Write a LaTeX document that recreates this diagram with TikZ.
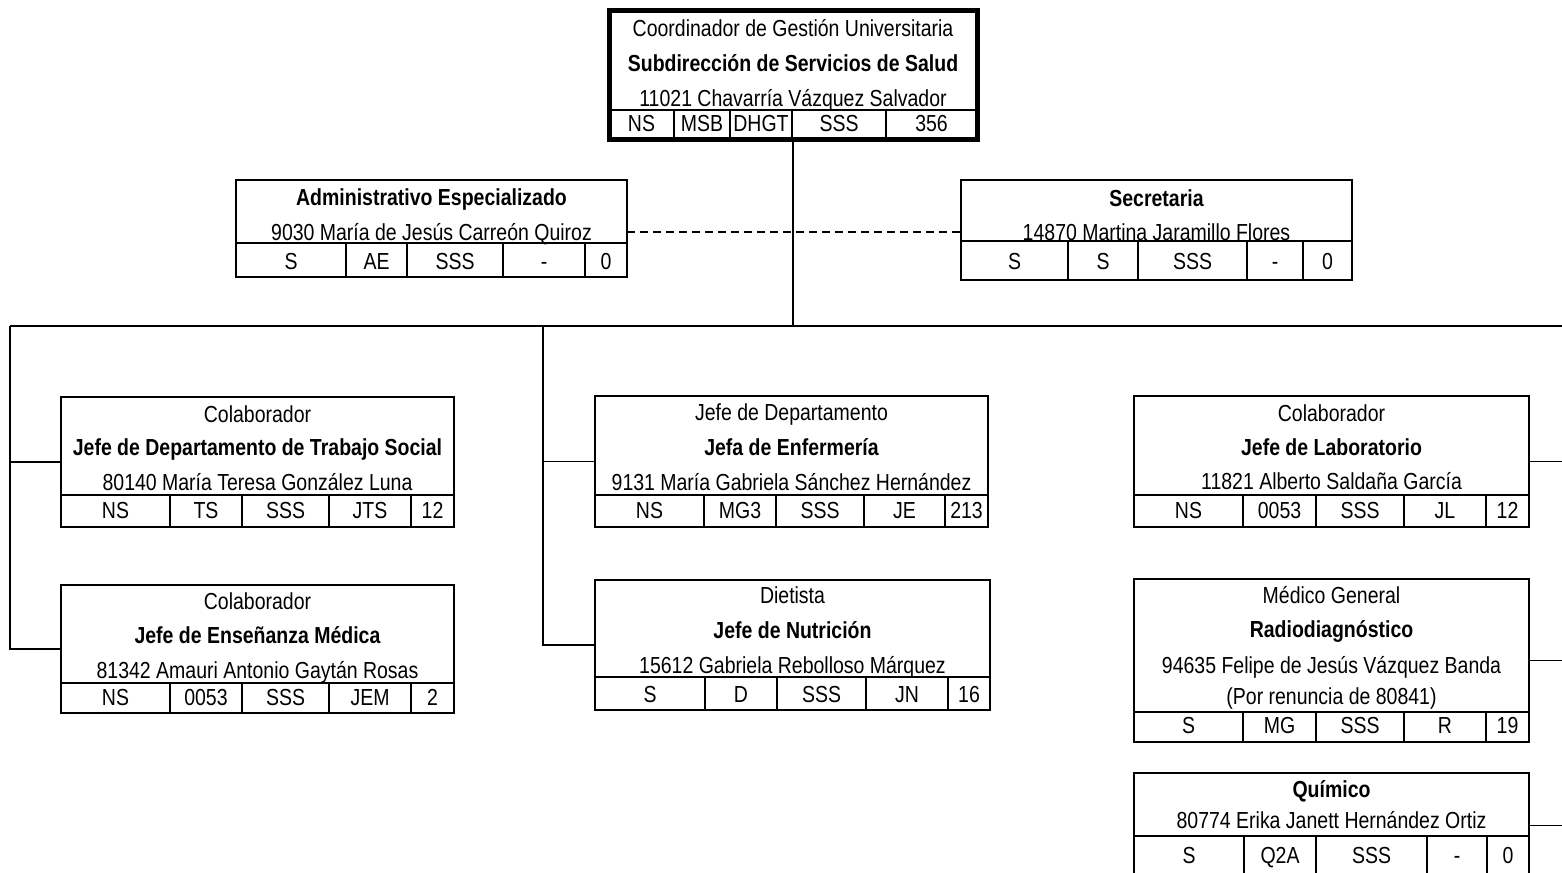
\documentclass[tikz,border=0pt]{standalone}
\usepackage{fontspec}
\setmainfont{Liberation Sans}[FakeStretch=0.84]
\newcommand\fs{\fontsize{11.6pt}{14pt}\selectfont}
\tikzset{
 obox/.style={draw, rectangle, line width=1.2pt, inner sep=0pt, outer sep=0pt},
 topbox/.style={obox, line width=2.5pt},
 tline/.style={line width=1pt},
 conn/.style={line width=0.8pt},
 lbl/.style={anchor=base, inner sep=0pt, font=\fs},
 blbl/.style={lbl, font=\fs\bfseries},
}
% #1 style, #2 name, #3 left, #4 top, #5 right, #6 bottom (pixel units)
\newcommand\orgbox[6][obox]{%
 \node[#1, anchor=north west, minimum width={(#5-#3)*0.5pt}, minimum height={(#6-#4)*0.5pt}] (#2) at (#3,#4) {};}
% #1 node, #2 table top, #3-#6 column separators
\newcommand\tablelines[6]{%
 \draw[tline] (#1.west |- 0,#2) -- (#1.east |- 0,#2);
 \foreach \c in {#3,#4,#5,#6} \draw[tline] (\c,#2) -- (\c,#2 |- #1.south);}
\newcommand\cell[4]{\node[lbl] (#1) at (#2,#3) {#4};}
\begin{document}
\begin{tikzpicture}[x=0.5pt,y=-0.5pt]
\useasboundingbox (0,0) rectangle (1562,872);
\clip (0,0) rectangle (1562,872);

% ---------- boxes ----------
\orgbox[topbox]{top}{609}{11}{977}{139}
\tablelines{top}{110}{674}{730}{792}{886}
\node[lbl] (top-a) at (793,37) {Coordinador de Gestión Universitaria};
\node[blbl] (top-b) at (793,72) {Subdirección de Servicios de Salud};
\node[lbl] (top-c) at (793,106) {11021 Chavarría Vázquez Salvador};
\cell{top-1}{641.5}{132}{NS}
\cell{top-2}{702}{132}{MSB}
\cell{top-3}{761}{132}{DHGT}
\cell{top-4}{839}{132}{SSS}
\cell{top-5}{931.5}{132}{356}

\orgbox{adm}{236}{180}{627}{277}
\tablelines{adm}{243}{346}{407}{503}{585}
\node[blbl] (adm-a) at (431.5,205) {Administrativo Especializado};
\node[lbl] (adm-b) at (431.5,240) {9030 María de Jesús Carreón Quiroz};
\cell{adm-1}{291}{269}{S}
\cell{adm-2}{376.5}{269}{AE}
\cell{adm-3}{455}{269}{SSS}
\cell{adm-4}{544}{269}{-}
\cell{adm-5}{606}{269}{0}

\orgbox{sec}{961}{180}{1352}{280}
\tablelines{sec}{241}{1068}{1138}{1247}{1303}
\node[blbl] (sec-a) at (1156.5,206) {Secretaria};
\node[lbl] (sec-b) at (1156.5,240) {14870 Martina Jaramillo Flores};
\cell{sec-1}{1014.5}{269}{S}
\cell{sec-2}{1103}{269}{S}
\cell{sec-3}{1192.5}{269}{SSS}
\cell{sec-4}{1275}{269}{-}
\cell{sec-5}{1327.5}{269}{0}

\orgbox{jts}{61}{397}{454}{527}
\tablelines{jts}{495}{170}{242}{329}{411}
\node[lbl] (jts-a) at (257.5,422) {Colaborador};
\node[blbl] (jts-b) at (257.5,455) {Jefe de Departamento de Trabajo Social};
\node[lbl] (jts-c) at (257.5,490) {80140 María Teresa González Luna};
\cell{jts-1}{115.5}{518}{NS}
\cell{jts-2}{206}{518}{TS}
\cell{jts-3}{285.5}{518}{SSS}
\cell{jts-4}{370}{518}{JTS}
\cell{jts-5}{432.5}{518}{12}

\orgbox{jem}{61}{585}{454}{713}
\tablelines{jem}{683}{170}{242}{329}{411}
\node[lbl] (jem-a) at (257.5,609) {Colaborador};
\node[blbl] (jem-b) at (257.5,643) {Jefe de Enseñanza Médica};
\node[lbl] (jem-c) at (257.5,678) {81342 Amauri Antonio Gaytán Rosas};
\cell{jem-1}{115.5}{705}{NS}
\cell{jem-2}{206}{705}{0053}
\cell{jem-3}{285.5}{705}{SSS}
\cell{jem-4}{370}{705}{JEM}
\cell{jem-5}{432.5}{705}{2}

\orgbox{enf}{595}{396}{988}{527}
\tablelines{enf}{495}{704}{776}{864}{945}
\node[lbl] (enf-a) at (791.5,420) {Jefe de Departamento};
\node[blbl] (enf-b) at (791.5,455) {Jefa de Enfermería};
\node[lbl] (enf-c) at (791.5,490) {9131 María Gabriela Sánchez Hernández};
\cell{enf-1}{649.5}{518}{NS}
\cell{enf-2}{740}{518}{MG3}
\cell{enf-3}{820}{518}{SSS}
\cell{enf-4}{904.5}{518}{JE}
\cell{enf-5}{966.5}{518}{213}

\orgbox{nut}{595}{580}{990}{710}
\tablelines{nut}{677}{705}{777}{866}{948}
\node[lbl] (nut-a) at (792.5,603) {Dietista};
\node[blbl] (nut-b) at (792.5,638) {Jefe de Nutrición};
\node[lbl] (nut-c) at (792.5,673) {15612 Gabriela Rebolloso Márquez};
\cell{nut-1}{650}{702}{S}
\cell{nut-2}{741}{702}{D}
\cell{nut-3}{821.5}{702}{SSS}
\cell{nut-4}{907}{702}{JN}
\cell{nut-5}{969}{702}{16}

\orgbox{lab}{1134}{396}{1529}{527}
\tablelines{lab}{495}{1243}{1316}{1404}{1486}
\node[lbl] (lab-a) at (1331.5,421) {Colaborador};
\node[blbl] (lab-b) at (1331.5,455) {Jefe de Laboratorio};
\node[lbl] (lab-c) at (1331.5,489) {11821 Alberto Saldaña García};
\cell{lab-1}{1188.5}{518}{NS}
\cell{lab-2}{1279.5}{518}{0053}
\cell{lab-3}{1360}{518}{SSS}
\cell{lab-4}{1445}{518}{JL}
\cell{lab-5}{1507.5}{518}{12}

\orgbox{rad}{1134}{579}{1529}{742}
\tablelines{rad}{712}{1243}{1316}{1404}{1486}
\node[lbl] (rad-a) at (1331.5,603) {Médico General};
\node[blbl] (rad-b) at (1331.5,637) {Radiodiagnóstico};
\node[lbl] (rad-c) at (1331.5,673) {94635 Felipe de Jesús Vázquez Banda};
\node[lbl] (rad-d) at (1331.5,704) {(Por renuncia de 80841)};
\cell{rad-1}{1188.5}{733}{S}
\cell{rad-2}{1279.5}{733}{MG}
\cell{rad-3}{1360}{733}{SSS}
\cell{rad-4}{1445}{733}{R}
\cell{rad-5}{1507.5}{733}{19}

\orgbox{qui}{1134}{773}{1529}{878}
\tablelines{qui}{836}{1244}{1316}{1427}{1487}
\node[blbl] (qui-a) at (1331.5,797) {Químico};
\node[lbl] (qui-b) at (1331.5,828) {80774 Erika Janett Hernández Ortiz};
\cell{qui-1}{1189}{863}{S}
\cell{qui-2}{1280}{863}{Q2A}
\cell{qui-3}{1371.5}{863}{SSS}
\cell{qui-4}{1457}{863}{-}
\cell{qui-5}{1508}{863}{0}

% ---------- connectors ----------
\coordinate (busL) at (10,326);
\coordinate (busM) at (543,326);
\coordinate (busR) at (1562,326);
\coordinate (dashy) at (0,232);
\draw[conn] (top.south) -- (top.south |- busL);
\draw[conn] (busL) -- (busR);
\draw[conn] (busL) -- (busL |- jem.west) -- (jem.west);
\draw[conn] (busL |- jts.west) -- (jts.west);
\draw[conn] (busM) -- (busM |- nut.west) -- (nut.west);
\draw[conn] (busM |- enf.west) -- (enf.west);
\draw[conn] (lab.east) -- (lab.east -| busR);
\draw[conn] (rad.east) -- (rad.east -| busR);
\draw[conn] (qui.east) -- (qui.east -| busR);
\draw[conn, dash pattern=on 4pt off 2.5pt] (adm.east |- dashy) -- (sec.west |- dashy);
\end{tikzpicture}
\end{document}
